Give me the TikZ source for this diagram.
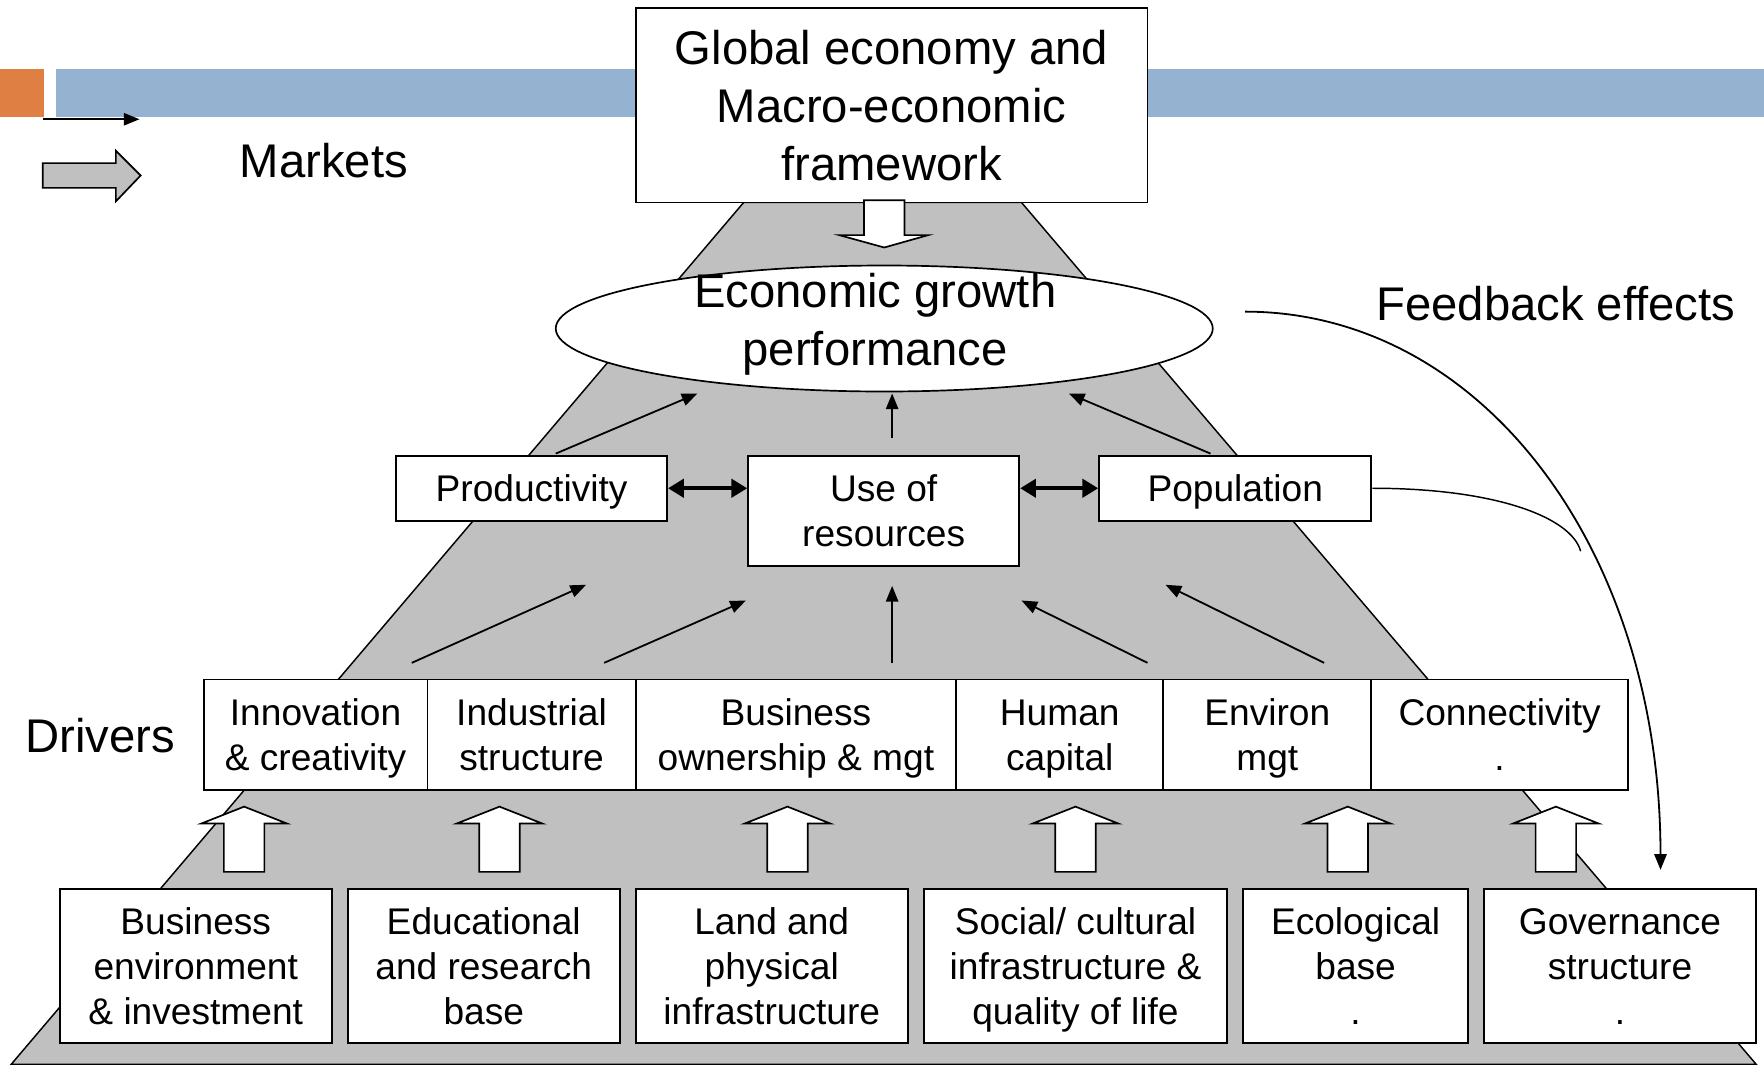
\documentclass[tikz,border=0pt]{standalone}
\usepackage{fontspec}
\setmainfont{Liberation Sans}
\usetikzlibrary{arrows.meta,shapes.geometric,positioning}

\definecolor{barblue}{RGB}{149,179,208}
\definecolor{barorange}{RGB}{224,127,68}
\definecolor{pyramid}{RGB}{192,192,192}

\newcommand{\bigfont}{\fontsize{42}{51.5}\selectfont}
\newcommand{\boxfont}{\fontsize{33}{40}\selectfont}
% struts so that every line sits the same way in its box
\newcommand{\bigstrut}{\rule[-10pt]{0pt}{50pt}}
\newcommand{\boxstrut}{\rule[-8pt]{0pt}{40pt}}
\newcommand{\boxlines}[1]{\boxstrut#1\boxstrut}
\newcommand{\biglines}[1]{\bigstrut#1\bigstrut}

\begin{document}
\begin{tikzpicture}[x=1pt,y=-1pt,
    box/.style={draw, fill=white, line width=1.6pt, align=center, inner sep=0pt, font=\boxfont},
    bigtext/.style={font=\bigfont, align=center},
    arr/.style={line width=1.6pt, -{Triangle[length=14pt,width=11pt]}},
    dbl/.style={line width=3.5pt, {Triangle[length=14pt,width=16pt]}-{Triangle[length=14pt,width=16pt]}},
    hollow/.style={draw, fill=white, line width=1.5pt}]

\useasboundingbox (0,0) rectangle (1568,946);

\fill[barorange] (0,61) rectangle (39,104);
\fill[barblue] (50,61) rectangle (1568,104);

\draw[fill=pyramid, line width=1.3pt] (661,180) -- (908,180) -- (1561,946) -- (10,946) -- cycle;

\node[box, bigtext, minimum width=455, minimum height=173] (global) at (792.5,93.5) {\biglines{Global economy and\\Macro-economic\\framework}};

% hollow arrow down from the top box
\draw[hollow] (768,178) -- (804,178) -- (804,209) -- (825,209) -- (786,220) -- (746,209) -- (768,209) -- cycle;

\node[draw, fill=white, ellipse, line width=1.5pt, minimum width=584, minimum height=112, inner sep=0pt] (growth) at (786,292) {};
\node[bigtext, inner sep=0pt] (growthtext) at (778,284) {\biglines{Economic growth\\performance}};

\node[box, minimum width=241, minimum height=58] (prod) at (472.5,434) {\boxlines{Productivity}};
\node[box, minimum width=241, minimum height=98] (use) at (785.5,454) {\boxlines{Use of\\resources}};
\node[box, minimum width=242, minimum height=58] (pop) at (1098,434) {\boxlines{Population}};

% drivers row
\foreach \name/\cx/\w/\txt in {innov/280.5/199/{Innovation\\\& creativity},
        indus/472.5/185/{Industrial\\structure},
        bown/707.5/285/{Business\\ownership \& mgt},
        human/942/184/{Human\\capital},
        env/1126.5/185/{Environ\\mgt},
        conn/1333/228/{Connectivity\\.}} {
    \node[box, minimum width=\w, minimum height=98] (\name) at (\cx,653) {\boxlines{\txt}};
}

% bottom row
\foreach \name/\cx/\w/\txt in {benv/174/242/{Business\\environment\\\& investment},
        edu/430/242/{Educational\\and research\\base},
        land/686/242/{Land and\\physical\\infrastructure},
        social/956/270/{Social/ cultural\\infrastructure \&\\quality of life},
        eco/1205/200/{Ecological\\base\\.},
        gov/1440/242/{Governance\\structure\\.}} {
    \node[box, minimum width=\w, minimum height=137] (\name) at (\cx,858.5) {\boxlines{\txt}};
}

\foreach \x in {217,444,700,956,1198,1383} {
    \draw[hollow] (\x-18,775) -- (\x+18,775) -- (\x+18,732) -- (\x+38,732) -- (\x,717) -- (\x-38,732) -- (\x-18,732) -- cycle;
}

\draw[arr] ([shift={(21.5,-1)}]prod.north) -- ([shift={(-166,1)}]growth.south);
\draw[arr] ([shift={(7.5,-15)}]use.north) -- ([shift={(7,1)}]growth.south);
\draw[arr] ([shift={(-22,-1)}]pop.north) -- ([shift={(164,1)}]growth.south);

\draw[arr] ([shift={(85.5,-14)}]innov.north) -- ([shift={(48.5,56)}]prod.south);
\draw[arr] ([shift={(64.5,-14)}]indus.north) -- ([shift={(-122.5,30)}]use.south);
\draw[arr] ([shift={(85.5,-14)}]bown.north) -- ([shift={(7.5,17)}]use.south);
\draw[arr] ([shift={(78,-14)}]human.north) -- ([shift={(122.5,30)}]use.south);
\draw[arr] ([shift={(50.5,-14)}]env.north) -- ([shift={(-62,56)}]pop.south);

\draw[dbl] (prod.east) -- (prod.east -| use.west);
\draw[dbl] (use.east |- pop.west) -- (pop.west);

% feedback loop
\draw[arr] ([shift={(28,-15)}]growth.east) .. controls +(210,0) and +(0,-285) .. ([shift={(36,-16)}]gov.north);
\coordinate (meet) at (1405,490);
\draw[line width=1.3pt] (pop.east) .. controls +(110,0) and +(-8,-30) .. (meet);

\node[bigtext] (drivers) at (89,654) {\biglines{Drivers}};
\node[bigtext] (markets) at (288,143) {\biglines{Markets}};
\node[bigtext] (feedback) at (1383,270) {\biglines{Feedback effects}};

% legend arrows
\draw[arr] (38,106) -- (124,106);
\draw[fill=pyramid, line width=1.5pt] (38,145) -- (103,145) -- (103,134) -- (125,156) -- (103,179) -- (103,167) -- (38,167) -- cycle;
\end{tikzpicture}
\end{document}
